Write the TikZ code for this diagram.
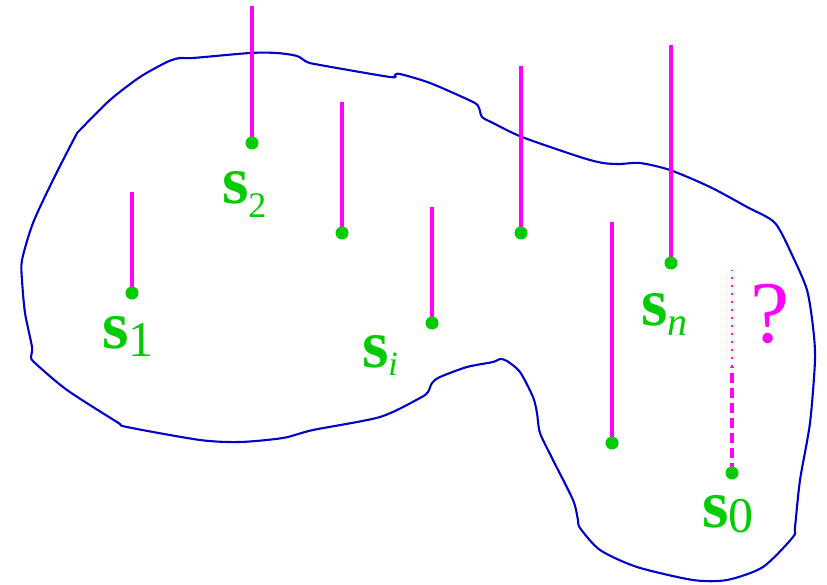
\documentclass[tikz,border=0pt]{standalone}
\usepackage{fontspec}
\setmainfont{Liberation Serif}
\usetikzlibrary{backgrounds}
\definecolor{ptgreen}{RGB}{0,204,0}
\definecolor{ptblue}{RGB}{0,0,200}
\definecolor{ptmag}{RGB}{255,0,255}
\newcommand\slab[3]{{\fontsize{68}{68}\selectfont\bfseries s}\raisebox{-#3pt}{\fontsize{#2}{#2}\selectfont #1}}
\begin{document}
\begin{tikzpicture}[x=1pt,y=-1pt,
  dot/.style={circle,fill=ptgreen,inner sep=0pt,minimum size=13pt},
  stem/.style={ptmag,line width=3.2pt},
  outline/.style={ptblue,line width=2.1pt},
  lab/.style={ptgreen,anchor=base west,inner sep=0pt,outer sep=0pt}]
\useasboundingbox (0,0) rectangle (827,585);
% points
\node[dot] (p1) at (132,293) {};
\node[dot] (p2) at (252,143) {};
\node[dot] (p3) at (342,233) {};
\node[dot] (p4) at (432,323) {};
\node[dot] (p5) at (521,233) {};
\node[dot] (p6) at (612,443) {};
\node[dot] (p7) at (671,263) {};
\node[dot] (p0) at (732,473) {};
\coordinate (t1) at (132,192);
\coordinate (t2) at (252,6);
\coordinate (t3) at (342,102);
\coordinate (t4) at (432,207);
\coordinate (t5) at (521,66);
\coordinate (t6) at (612,222);
\coordinate (t7) at (671,45);
\coordinate (m0) at (732,367);
\coordinate (t0) at (732,270);
\begin{scope}[on background layer]
\draw[outline] plot[smooth cycle,tension=0.45] coordinates {
(180,58) (193,58) (250,53) (277,53) (297,56) (307,62) (320,65) (390,77) (395,75)
(400,74) (430,83) (473,102) (479,108) (482,117) (493,123) (522,137) (580,157)
(603,163) (620,164) (640,163) (670,170) (710,187) (747,207) (775,223) (793,257)
(807,290) (813,327) (815,360) (810,423) (800,480) (795,527) (793,537) (763,567)
(727,580) (693,580) (637,567) (600,550) (580,528) (578,520) (573,500) (553,460)
(540,433) (537,413) (533,397) (520,372) (507,361) (500,359) (493,362) (467,367)
(440,377) (432,383) (428,392) (420,398) (380,417) (313,430) (283,438) (240,442)
(200,440) (127,427) (117,422) (67,390) (35,363) (31,357) (32,347) (25,313)
(22,280) (22,260) (33,223) (53,180) (75,137) (80,130) (110,100) (140,77) (167,62)};
\draw[stem] (p1.center) -- (t1);
\draw[stem] (p2.center) -- (t2);
\draw[stem] (p3.center) -- (t3);
\draw[stem] (p4.center) -- (t4);
\draw[stem] (p5.center) -- (t5);
\draw[stem] (p6.center) -- (t6);
\draw[stem] (p7.center) -- (t7);
\draw[stem,dash pattern=on 10pt off 5pt] (p0.center) -- (m0);
\draw[ptmag,line width=2.2pt,dash pattern=on 2pt off 6pt] (m0) -- (t0);
\end{scope}
% labels
\node[lab] (l1) at (102,348) {\slab{1}{50}{9}};
\node[lab] (l2) at (222,204) {\slab{2}{36}{14}};
\node[lab] (li) at (362,367) {\slab{\itshape i}{34}{8}};
\node[lab] (ln) at (641,325) {\slab{\itshape n}{40}{10}};
\node[lab] (l0) at (702,527) {\slab{0}{50}{5}};
\node[ptmag,anchor=base,inner sep=0pt] (q) at (770,342) {\fontsize{88}{88}\selectfont ?};
\end{tikzpicture}
\end{document}
